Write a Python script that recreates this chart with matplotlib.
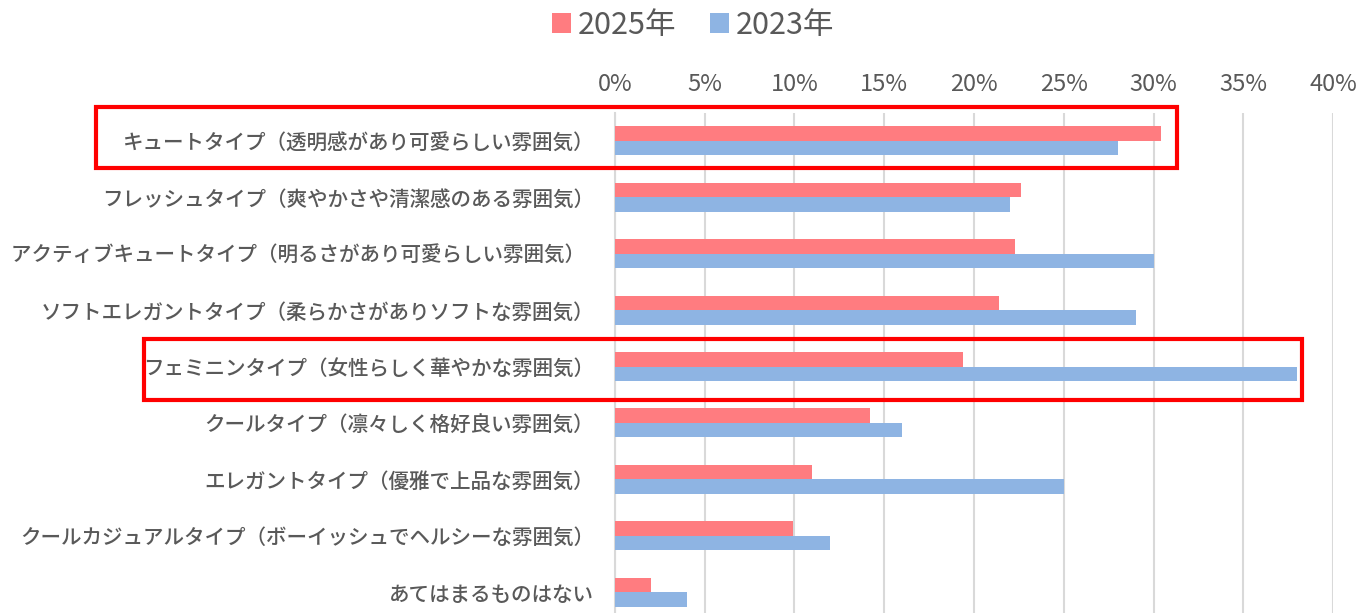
import numpy as np
import matplotlib
matplotlib.use('Agg')
from matplotlib import pyplot as plt
from matplotlib.patches import Rectangle
from matplotlib.transforms import blended_transform_factory

plt.rcParams['font.family'] = ['Noto Sans CJK JP', 'DejaVu Sans']

categories = [
    'キュートタイプ（透明感があり可愛らしい雰囲気）',
    'フレッシュタイプ（爽やかさや清潔感のある雰囲気）',
    'アクティブキュートタイプ（明るさがあり可愛らしい雰囲気）  ',
    'ソフトエレガントタイプ（柔らかさがありソフトな雰囲気）',
    'フェミニンタイプ（女性らしく華やかな雰囲気）',
    'クールタイプ（凛々しく格好良い雰囲気）',
    'エレガントタイプ（優雅で上品な雰囲気）',
    'クールカジュアルタイプ（ボーイッシュでヘルシーな雰囲気）',
    'あてはまるものはない',
]
y2025 = [30.4, 22.6, 22.3, 21.4, 19.4, 14.2, 11.0, 9.9, 2.0]
y2023 = [28.0, 22.0, 30.0, 29.0, 38.0, 16.0, 25.0, 12.0, 4.0]
xticks = [0, 5, 10, 15, 20, 25, 30, 35, 40]
series_labels = ['2025年', '2023年']
highlighted = [0, 4]

c2025 = '#FF7C80'
c2023 = '#8EB4E3'
text_color = '#595959'
grid_color = '#D9D9D9'

fig = plt.figure(figsize=(13.68, 6.13), dpi=100)
ax = fig.add_axes([0.4494, -0.0119, 0.5252, 0.828])

pos = np.arange(len(categories))
h = 0.257
ax.barh(pos - h / 2, y2025, height=h, color=c2025, label=series_labels[0], zorder=3)
ax.barh(pos + h / 2, y2023, height=h, color=c2023, label=series_labels[1], zorder=3)

ax.set_xlim(0, 40)
ax.set_ylim(len(categories) - 0.5, -0.5)
ax.set_xticks(xticks)
ax.set_xticklabels([f'{v}%' for v in xticks])
ax.xaxis.tick_top()
ax.tick_params(axis='x', length=0, pad=12, labelsize=17, labelcolor=text_color)
ax.set_yticks(pos)
ax.set_yticklabels(categories, fontweight='medium')
ax.tick_params(axis='y', length=0, pad=15, labelsize=14.8, labelcolor=text_color)

ax.grid(axis='x', color=grid_color, linewidth=1.5, zorder=0)
for s in ['top', 'right', 'bottom']:
    ax.spines[s].set_visible(False)
ax.spines['left'].set_color(grid_color)
ax.spines['left'].set_linewidth(1.5)

fig.legend(loc='center', bbox_to_anchor=(0.5066, 0.959), ncol=2, frameon=False,
           fontsize=22, labelcolor=text_color, handlelength=0.62, handleheight=0.62,
           handletextpad=0.23, columnspacing=1.1)

# red highlight boxes
trans = blended_transform_factory(fig.transFigure, ax.transData)
boxes = {0: (0.0702, 0.8601, -0.603, 0.479), 4: (0.1053, 0.952, -0.496, 0.598)}
for i in highlighted:
    x0, x1, t, b = boxes[i]
    ax.add_patch(Rectangle((x0, i + t), x1 - x0, b - t, transform=trans, fill=False,
                           edgecolor='#FF0000', linewidth=3, clip_on=False, zorder=5))

fig.savefig('out.png', dpi=100)
